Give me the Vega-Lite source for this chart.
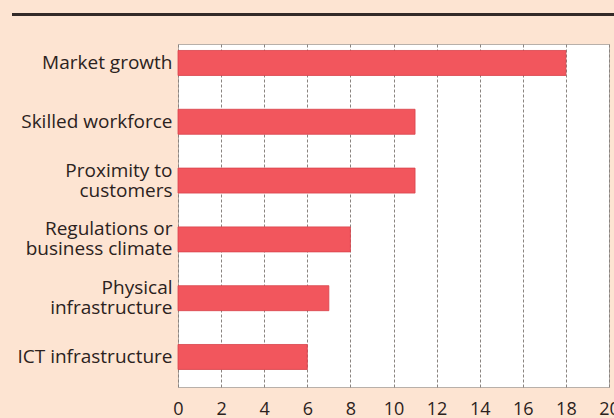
{
  "$schema": "https://vega.github.io/schema/vega-lite/v6.json",
  "background": "#fde4d2",
  "padding": {"left": 12, "top": 13, "right": 0, "bottom": 0},
  "spacing": 27,
  "config": {
    "font": "Open Sans",
    "view": {"stroke": null}
  },
  "datasets": {
    "factors": [
      {"factor": "Market growth", "count": 18},
      {"factor": "Skilled workforce", "count": 11},
      {"factor": "Proximity to|customers", "count": 11},
      {"factor": "Regulations or|business climate", "count": 8},
      {"factor": "Physical|infrastructure", "count": 7},
      {"factor": "ICT infrastructure", "count": 6}
    ]
  },
  "vconcat": [
    {
      "width": 602,
      "height": 3,
      "data": {"values": [{"k": 1}]},
      "mark": {"type": "rect", "color": "#332a28"},
      "encoding": {}
    },
    {
      "spacing": 0,
      "hconcat": [
        {
          "width": 160,
          "height": 343,
          "data": {"name": "factors"},
          "mark": {"type": "tick", "opacity": 0},
          "encoding": {
            "y": {
              "field": "factor",
              "type": "nominal",
              "sort": null,
              "scale": {"paddingInner": 0.575, "paddingOuter": 0.204, "align": 0.27},
              "axis": {
                "orient": "right",
                "title": null,
                "domain": false,
                "ticks": false,
                "labelAlign": "right",
                "labelExpr": "split(datum.label, '|')",
                "labelFontSize": 19,
                "labelColor": "#2b2220",
                "labelPadding": 0,
                "labelLineHeight": 20,
                "labelOffset": {"condition": {"test": "indexof(datum.value, '|') >= 0", "value": -10}, "value": 0},
                "minExtent": 0,
                "maxExtent": 0,
                "labelLimit": 200
              }
            }
          }
        },
        {
          "width": 431,
          "height": 343,
          "view": {"fill": "#ffffff", "stroke": "#b8b0aa", "strokeWidth": 1},
          "data": {"name": "factors"},
          "mark": {"type": "bar", "color": "#f2565d", "stroke": "#d8434b", "strokeWidth": 0.8},
          "encoding": {
            "y": {
              "field": "factor",
              "type": "nominal",
              "sort": null,
              "scale": {"paddingInner": 0.575, "paddingOuter": 0.204, "align": 0.27},
              "axis": null
            },
            "x": {
              "field": "count",
              "type": "quantitative",
              "scale": {"domain": [0, 20], "nice": false},
              "axis": {
                "title": null,
                "values": [0, 2, 4, 6, 8, 10, 12, 14, 16, 18, 20],
                "domain": false,
                "ticks": false,
                "grid": true,
                "gridColor": "#8a8480",
                "gridDash": [3, 2],
                "gridWidth": 1,
                "labelFontSize": 18,
                "labelColor": "#2b2220",
                "labelPadding": 13,
                "labelFlush": false
              }
            }
          }
        }
      ]
    }
  ]
}
